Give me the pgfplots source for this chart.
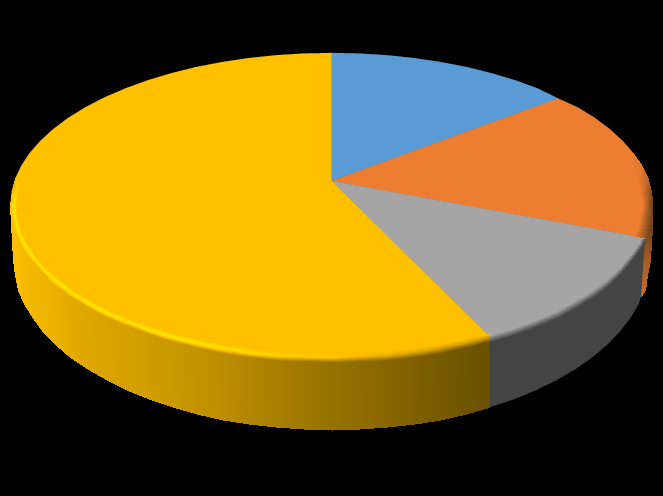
\documentclass[border=0pt]{standalone}
\usepackage{pgfplots}
\pgfplotsset{compat=1.18}
\definecolor{cblue}{HTML}{5B9BD5}
\definecolor{corange}{HTML}{ED7D31}
\definecolor{cgray}{HTML}{A5A5A5}
\definecolor{cyel}{HTML}{FFC000}
\definecolor{cgside}{HTML}{444444}
\begin{document}
\begin{tikzpicture}
\begin{axis}[
  scale only axis, width=663bp, height=496bp,
  xmin=0, xmax=663, ymin=0, ymax=496, y dir=reverse,
  hide axis, clip=true,
  point meta min=0, point meta max=5,
  colormap={pie}{rgb255(0pt)=(106,80,0); rgb255(100pt)=(255,192,0); rgb255(135pt)=(255,232,0);
    rgb255(200pt)=(68,68,68); rgb255(300pt)=(165,165,165);
    rgb255(400pt)=(105,62,25); rgb255(500pt)=(237,125,49)},
]
\addplot[fill=black, draw=none] coordinates {(0,0)(663,0)(663,496)(0,496)} --cycle;
% side: orange
\addplot[surf, shader=interp, mesh/rows=2, point meta=explicit] table[meta=c] {
x y c
640 205 4.1
645 218 4.1
645 231.4 4.1
644 238 4.2
642.5 260 4.45
641 280 4.6
640.5 296 4.7
652.5 205 4.1
652 218 4.1
651.8 231 4.1
651 240 4.2
649.5 260 4.45
647 275 4.6
644.7 289.5 4.7
};
% side: gray
\addplot[fill=cgside, draw=none] coordinates {(645,238)(633,257)(609.5,281)(577,303)(538,321)(489.5,337)(489.5,407.2)(513.9,399.3)(535.9,390.2)(556.4,380.2)(575.1,369.3)(592,357.5)(606.9,345)(619.7,331.8)(630.3,318.1)(638.7,304)(641,296)} --cycle;
% side: yellow
\addplot[surf, shader=interp, mesh/rows=2, point meta=explicit] table[meta=c] {
x y c
489.5 337 0
467.2 342.8 .04
441.3 347.8 .08
414.6 351.8 .14
387.2 354.7 .2
359.5 356.4 .25
331.5 357 .3
303.5 356.4 .36
275.8 354.7 .42
248.4 351.8 .48
221.7 347.8 .55
195.8 342.8 .6
171 336.6 .65
147.4 329.5 .69
125.2 321.4 .72
104.5 312.5 .75
85.6 302.7 .78
68.5 292.2 .82
53.5 281 .87
40.6 269.2 .9
29.9 257 .92
21.4 244.3 .95
15.4 231.4 .97
11.7 218.3 .99
10.5 205 1
489.5 407.2 0
465.9 414.1 .04
440.3 419.8 .08
413.8 424.2 .14
386.7 427.4 .2
359.2 429.4 .25
331.5 430 .3
303.8 429.4 .36
276.3 427.4 .42
249.2 424.2 .48
222.7 419.8 .55
197.1 414.1 .6
172.5 407.2 .65
149.1 399.3 .69
127.1 390.2 .72
106.6 380.2 .75
87.9 369.3 .78
71 357.5 .82
56.1 345 .87
43.3 331.8 .9
32.7 318.1 .92
24.3 304 .95
18.3 289.5 .97
14.7 274.8 .99
13.5 260 1
};
% top faces
\addplot[fill=cblue, draw=cblue, line width=.2pt] coordinates {(331.5,181)(331.5,53)(359.5,53.6)(387.2,55.3)(414.6,58.2)(441.3,62.2)(467.2,67.2)(492,73.4)(515.6,80.5)(537.8,88.6)(558,98.5)} --cycle;
\addplot[fill=corange, draw=corange, line width=.2pt] coordinates {(331.5,181)(558,98.5)(577.4,107.3)(594.5,117.8)(609.5,129)(622.4,140.8)(633.1,153)(641.6,165.7)(647.6,178.6)(651.3,191.7)(652.5,205)(651.3,218.3)(647.6,231.4)(645,238)} --cycle;
\addplot[fill=cgray, draw=cgray, line width=.2pt] coordinates {(331.5,181)(645,238)(641.6,244.3)(633.1,257)(622.4,269.2)(609.5,281)(594.5,292.2)(577.4,302.7)(558.5,312.5)(537.8,321.4)(515.6,329.5)(489.5,337)} --cycle;
\addplot[fill=cyel, draw=cyel, line width=.2pt] coordinates {(331.5,181)(489.5,337)(467.2,342.8)(441.3,347.8)(414.6,351.8)(387.2,354.7)(359.5,356.4)(331.5,357)(303.5,356.4)(275.8,354.7)(248.4,351.8)(221.7,347.8)(195.8,342.8)(171,336.6)(147.4,329.5)(125.2,321.4)(104.5,312.5)(85.6,302.7)(68.5,292.2)(53.5,281)(40.6,269.2)(29.9,257)(21.4,244.3)(15.4,231.4)(11.7,218.3)(10.5,205)(11.7,191.7)(15.4,178.6)(21.4,165.7)(29.9,153)(40.6,140.8)(53.5,129)(68.5,117.8)(85.6,107.3)(104.5,97.5)(125.2,88.6)(147.4,80.5)(171,73.4)(195.8,67.2)(221.7,62.2)(248.4,58.2)(275.8,55.3)(303.5,53.6)(331.5,53)} --cycle;
% rim: yellow
\addplot[surf, shader=interp, mesh/rows=3, point meta=explicit] table[meta=c] {
x y c
489.5 333.2 1
464.6 339.1 1
439.2 344.1 1
413 348 1
386.2 350.8 1
359 352.4 1
331.5 353 1
304 352.4 1
276.8 350.8 1
250 348 1
223.8 344.1 1
198.4 339.1 1
174 333.2 1
150.8 326.2 1
129 318.4 1
108.8 309.7 1
90.2 300.1 1
73.5 289.9 1
58.7 279 1
46 267.5 1
35.5 255.6 1
27.2 243.3 1
21.3 230.7 1
17.7 217.9 1
16.5 205 1
17.7 192.1 1
21.3 179.3 1
489.5 336.6 .6
465.9 342.8 .65
440.3 347.8 .7
413.8 351.8 .78
386.7 354.7 .85
359.2 356.4 .95
331.5 357 1.05
303.8 356.4 1.12
276.3 354.7 1.2
249.2 351.8 1.27
222.7 347.8 1.3
197.1 342.8 1.35
172.5 336.6 1.35
149.1 329.5 1.35
127.1 321.4 1.35
106.6 312.5 1.35
87.9 302.7 1.35
71 292.2 1.35
56.1 281 1.35
43.3 269.2 1.35
32.7 257 1.35
24.3 244.3 1.35
18.3 231.4 1.35
14.7 218.3 1.35
13.5 205 1.35
14.7 191.7 1.2
18.3 178.6 1
489.5 341 0
467.2 347.3 .04
441.3 352.5 .08
414.6 356.6 .14
387.2 359.6 .2
359.5 361.4 .25
331.5 362 .3
303.5 361.4 .36
275.8 359.6 .42
248.4 356.6 .48
221.7 352.5 .55
195.8 347.3 .6
171 341 .65
147.4 333.1 .69
125.2 325.3 .72
104.5 316 .75
85.6 305.9 .78
68.5 295.1 .82
53.5 283.5 .87
40.6 271.3 .9
29.9 258.7 .92
21.4 245.6 .95
15.4 232.3 .97
11.7 218.7 .99
10.5 205 1
11.7 191.3 1
15.4 177.7 1
};
% rim: gray
\addplot[surf, shader=interp, mesh/rows=2, point meta=explicit] table[meta=c] {
x y c
489.5 334.9 3
513.3 327.9 3
535.3 319.9 3
555.7 311.1 3
574.3 301.4 3
591.2 291 3
606 280 3
618.8 268.4 3
629.4 256.3 3
637.7 243.8 3
641 237.5 3
489.5 341.8 2
515.6 334.4 2
537.8 326 2
558.5 316.7 2
577.4 306.6 2
594.5 295.6 2
609.5 284 2
622.4 271.8 2
633.1 259 2
641.6 245.9 2
644.9 239.2 2
};
% rim: orange
\addplot[surf, shader=interp, mesh/rows=2, point meta=explicit] table[meta=c] {
x y c
622 153.7 5
630 166 5
636.7 179 5
640.3 192 5
641.5 205 5
640.3 218 5
636.7 231 5
634 236 5
633.1 153 5
641.6 165.7 4.9
647.6 178.6 4.6
651.3 191.7 4.2
652.5 205 4
651.3 218.3 4.1
647.6 231.4 4.2
645 238 4.3
};
\end{axis}
\end{tikzpicture}
\end{document}
